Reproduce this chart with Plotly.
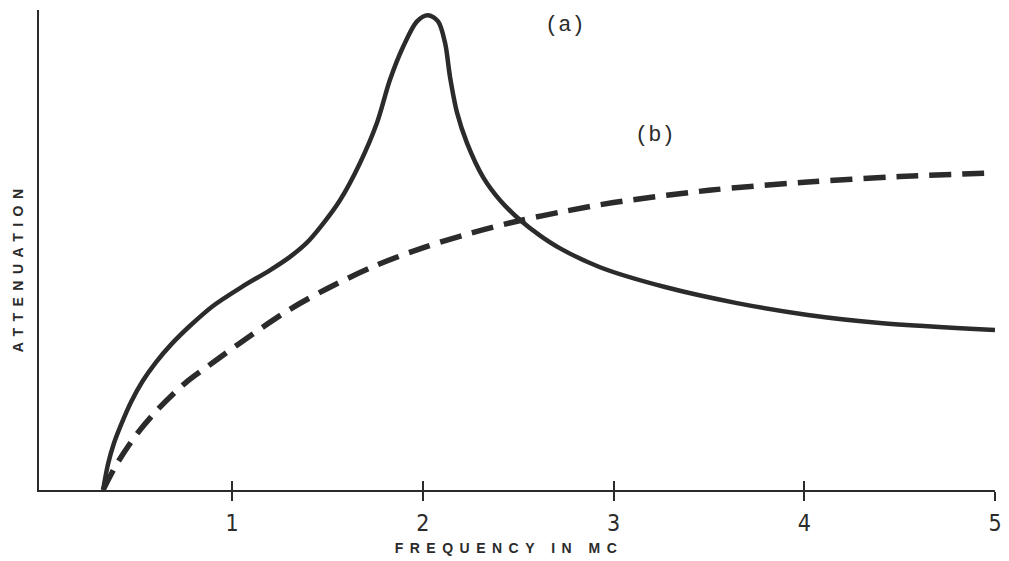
import plotly.graph_objects as go

# Curve (a): solid
a_x = [0.324, 0.35, 0.38, 0.42, 0.47, 0.53, 0.60, 0.68, 0.78, 0.90,
       1.05, 1.20, 1.304, 1.390, 1.461, 1.566, 1.671, 1.760, 1.828, 1.897,
       1.970, 2.027, 2.080, 2.117, 2.143, 2.180, 2.232, 2.316, 2.405, 2.510,
       2.615, 2.720, 2.929, 3.270, 3.647, 4.019, 4.397, 5.0]
a_y = [0.0, 5.5, 9.8, 14.0, 18.6, 23.0, 27.0, 30.8, 34.8, 39.0,
       43.0, 46.6, 49.4, 52.3, 55.6, 61.4, 69.3, 77.8, 86.9, 93.9,
       99.3, 100.6, 99.3, 94.7, 87.5, 79.9, 73.5, 66.3, 61.4, 57.2,
       53.9, 51.2, 47.2, 43.0, 39.6, 37.1, 35.4, 33.9]

# Curve (b): dashed
b_x = [0.324, 0.40, 0.50, 0.60, 0.75, 0.90, 1.10, 1.30, 1.50, 1.75,
       2.00, 2.25, 2.50, 2.75, 3.00, 3.50, 4.00, 4.50, 5.00]
b_y = [0.0, 5.8, 11.8, 16.6, 22.5, 27.0, 32.8, 38.2, 42.7, 47.5,
       51.3, 54.4, 57.0, 59.1, 60.9, 63.5, 65.2, 66.4, 67.2]

tick_vals = [1, 2, 3, 4, 5]
tick_text = ["1", "2", "3", "4", "5"]

ink = "#2b2b2b"

fig = go.Figure()
fig.add_trace(go.Scatter(x=a_x, y=a_y, mode="lines",
                         line=dict(color=ink, width=4.5, shape="spline", smoothing=0.9),
                         showlegend=False, hoverinfo="skip"))
fig.add_trace(go.Scatter(x=b_x, y=b_y, mode="lines",
                         line=dict(color=ink, width=5.5, shape="spline", smoothing=0.9,
                                   dash="22px,11px"),
                         showlegend=False, hoverinfo="skip"))
# invisible trace on the overlay axis so its ticks render
fig.add_trace(go.Scatter(x=[1], y=[0], xaxis="x2", mode="markers",
                         marker=dict(opacity=0), showlegend=False, hoverinfo="skip"))

xr = [-0.012, 5.0]
fig.update_layout(
    width=1001, height=553,
    margin=dict(l=31, r=14, t=2, b=71, autoexpand=False),
    paper_bgcolor="white", plot_bgcolor="white",
    xaxis=dict(range=xr, showgrid=False, zeroline=False, showline=True,
               linecolor=ink, linewidth=2.2, automargin=False,
               tickmode="array", tickvals=tick_vals, ticktext=tick_text,
               ticks="outside", ticklen=9, tickwidth=1.8, tickcolor=ink,
               ticklabelstandoff=2, ticklabeloverflow="allow",
               tickfont=dict(family="Liberation Sans Narrow, DejaVu Sans Condensed",
                             size=23, color=ink)),
    xaxis2=dict(range=xr, overlaying="x", showgrid=False, zeroline=False,
                tickmode="array", tickvals=tick_vals, showticklabels=False,
                ticks="inside", ticklen=9, tickwidth=1.8, tickcolor=ink),
    yaxis=dict(range=[0, 101.7], showgrid=False, zeroline=False, showline=True,
               linecolor=ink, linewidth=2.2, showticklabels=False, ticks="",
               automargin=False),
    annotations=[
        dict(text='<span style="letter-spacing:6.5px">FREQUENCY IN MC</span>',
             xref="paper", yref="paper", x=0.492, y=-0.121, width=250,
             showarrow=False, xanchor="center", yanchor="middle",
             font=dict(family="Liberation Sans", size=14, color=ink, weight="bold")),
        dict(text='<span style="letter-spacing:6.5px">ATTENUATION</span>',
             xref="paper", yref="paper", x=-0.022, y=0.465, textangle=-90,
             width=185,
             showarrow=False, xanchor="center", yanchor="middle",
             font=dict(family="Liberation Sans", size=14, color=ink, weight="bold")),
        dict(text="(a)", x=2.746, y=98.5, xref="x", yref="y", showarrow=False,
             font=dict(family="Liberation Mono", size=22, color=ink)),
        dict(text="(b)", x=3.218, y=75.2, xref="x", yref="y", showarrow=False,
             font=dict(family="Liberation Mono", size=22, color=ink)),
    ],
)

fig.write_html("out.html")
